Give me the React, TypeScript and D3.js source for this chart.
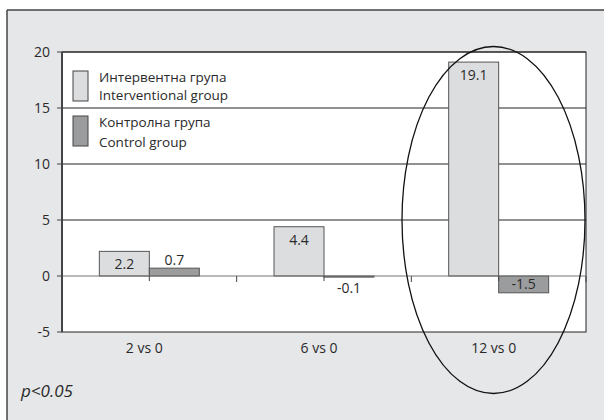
import * as d3 from 'd3';
import React from 'react';

// chart data
const categories = ['2 vs 0', '6 vs 0', '12 vs 0'];
const interventional = [2.2, 4.4, 19.1];
const control = [0.7, -0.1, -1.5];
const yTicks = [-5, 0, 5, 10, 15, 20];
const legendLabels = [
  ['Интервентна група', 'Interventional group'],
  ['Контролна група', 'Control group'],
];

const W = 604;
const H = 420;
const font = '"Open Sans", sans-serif';
const fs = 14;
const ink = '#2a2a2a';

export default function App() {
  const plot = { left: 62, right: 586, top: 52, bottom: 332 };

  // x-scale for categories, inner band for the two series
  const x = d3.scaleBand<string>()
    .domain(categories)
    .range([plot.left, plot.right])
    .paddingInner(0)
    .paddingOuter(0);
  const inner = d3.scaleBand<string>()
    .domain(['int', 'ctl'])
    .range([0, x.bandwidth()])
    .paddingOuter(0.747)
    .paddingInner(0);

  // y-scale
  const y = d3.scaleLinear().domain([-5, 20]).range([plot.bottom, plot.top]);

  const series = [
    { key: 'int', values: interventional, fill: '#dcdddf' },
    { key: 'ctl', values: control, fill: '#9b9c9e' },
  ];

  const boundaries = d3.range(categories.length + 1).map(i => plot.left + i * x.step());

  return (
    <svg width={W} height={H} style={{ position: 'absolute', left: 0, top: 0 }}>
      <rect x={0} y={0} width={W} height={H} fill="#fff" />
      <rect x={7} y={10} width={W} height={H} fill="#e6e7e8" />
      <line x1={7} y1={10} x2={W} y2={10} stroke="#444" strokeWidth={1.5} />
      <line x1={7} y1={10} x2={7} y2={H} stroke="#444" strokeWidth={1.5} />

      {/* plot area */}
      <rect x={plot.left} y={plot.top} width={plot.right - plot.left} height={plot.bottom - plot.top}
        fill="#fff" stroke="#222" strokeWidth={1} />

      {/* gridlines */}
      {yTicks.filter(t => t > 0).map(t => (
        <line key={t} x1={plot.left} x2={plot.right} y1={y(t)} y2={y(t)} stroke="#222" strokeWidth={1} />
      ))}

      {/* bars */}
      {series.map(s => (
        <g key={s.key}>
          {s.values.map((v, i) => {
            const bx = (x(categories[i]) as number) + (inner(s.key) as number);
            const top = Math.min(y(v), y(0));
            const h = Math.abs(y(v) - y(0));
            return (
              <rect key={i} x={bx} y={top} width={inner.bandwidth()} height={h}
                fill={s.fill} stroke="#555" strokeWidth={1} />
            );
          })}
        </g>
      ))}

      {/* zero line */}
      <line x1={plot.left} x2={plot.right} y1={y(0)} y2={y(0)} stroke="#777" strokeWidth={1.2} />

      {/* category ticks */}
      {boundaries.map((b, i) => (
        <line key={'b' + i} x1={b} x2={b} y1={y(0)} y2={y(0) + 6} stroke="#444" strokeWidth={1} />
      ))}
      {categories.map(c => (
        <line key={'c' + c} x1={(x(c) as number) + x.bandwidth() / 2} x2={(x(c) as number) + x.bandwidth() / 2}
          y1={y(0)} y2={y(0) + 5} stroke="#444" strokeWidth={1} />
      ))}

      {/* value labels */}
      {series.map(s => s.values.map((v, i) => {
        const cx = (x(categories[i]) as number) + (inner(s.key) as number) + inner.bandwidth() / 2;
        const h = Math.abs(y(v) - y(0));
        let ty;
        if (h > 14) ty = v > 0 ? y(v) + 18 : y(v) - 4;
        else ty = v > 0 ? y(v) - 3 : y(v) + 16;
        return (
          <text key={s.key + i} x={cx} y={ty} textAnchor="middle" fontFamily={font} fontSize={fs} fill={ink}>
            {String(v)}
          </text>
        );
      }))}

      {/* y axis */}
      <line x1={plot.left} x2={plot.left} y1={plot.top} y2={plot.bottom} stroke="#444" strokeWidth={2} />
      {yTicks.map(t => (
        <g key={t}>
          <line x1={plot.left - 5} x2={plot.left} y1={y(t)} y2={y(t)} stroke="#444" strokeWidth={1} />
          <text x={plot.left - 12} y={y(t) + 5} textAnchor="end" fontFamily={font} fontSize={fs} fill={ink}>{t}</text>
        </g>
      ))}

      {/* x labels */}
      {categories.map(c => (
        <text key={c} x={(x(c) as number) + x.bandwidth() / 2 - 5} y={353} textAnchor="middle"
          fontFamily={font} fontSize={fs} fill={ink}>{c}</text>
      ))}

      {/* legend */}
      {series.map((s, i) => (
        <g key={'lg' + s.key} transform={`translate(73, ${71 + i * 45})`}>
          <rect x={0} y={0} width={15} height={30} fill={s.fill} stroke="#444" strokeWidth={1} />
          <text x={26} y={11} fontFamily={font} fontSize={13.5} fill={ink}>{legendLabels[i][0]}</text>
          <text x={26} y={29 + i * 2} fontFamily={font} fontSize={13.5} fill={ink}>{legendLabels[i][1]}</text>
        </g>
      ))}

      {/* highlight ellipse */}
      <ellipse cx={493.5} cy={220} rx={91.5} ry={173.5} fill="none" stroke="#111" strokeWidth={1.3} />

      <text x={21} y={397} fontFamily={font} fontStyle="italic" fontSize={17} fill={ink}>p&lt;0.05</text>
    </svg>
  );
}
